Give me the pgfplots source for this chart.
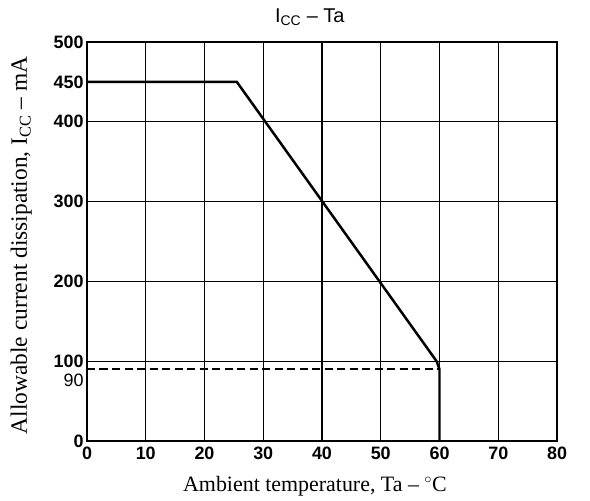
\documentclass[border=0pt]{standalone}
\usepackage{pgfplots}
\pgfplotsset{compat=1.18}
\usepackage{fontspec}
\setmainfont{Liberation Serif}
\newfontfamily\tickfont{Liberation Sans}
\begin{document}
\begin{tikzpicture}[x=1bp,y=1bp]
\useasboundingbox (-87,-60) rectangle (503,441);
\begin{axis}[
  at={(0,0)}, anchor=south west,
  scale only axis, width=470bp, height=399bp,
  xmin=0, xmax=80, ymin=0, ymax=500,
  xtick={0,10,...,80}, ytick={0,100,200,300,400,500},
  extra y ticks={90,450},
  extra y tick labels={{\fontseries{m}\selectfont\raisebox{-11bp}[\height][\depth]{90}},450},
  extra y tick style={grid=none},
  grid=major, major grid style={black, line width=1.1pt},
  axis line style={black, line width=1.2pt},
  major tick length=0pt,
  tick label style={font=\tickfont\bfseries\fontsize{18}{18}\selectfont},
  xticklabel style={yshift=-2bp},
  /pgf/number format/assume math mode=true,
  /pgf/number format/set thousands separator={},
  title={\tickfont\fontsize{20}{20}\selectfont I\textsubscript{CC} \textendash{} Ta},
  title style={at={(rel axis cs:0.474,1)}, anchor=base, yshift=14bp},
  xlabel={\fontsize{22}{22}\selectfont Ambient temperature, Ta \textendash{} $^{\circ}$C},
  ylabel={\fontsize{23.5}{23.5}\selectfont Allowable current dissipation, I\textsubscript{CC} \textendash{} mA},
  xlabel style={at={(rel axis cs:0.485,0)}, anchor=base, yshift=-50bp},
  ylabel style={at={(rel axis cs:0,0.49)}, anchor=base, yshift=60bp},
]
\addplot[black, line width=2.5pt] coordinates {(0,450) (25.5,450) (59.5,100) (60,90) (60,0)};
\addplot[black, line width=1.6pt, dash pattern=on 8bp off 4.5bp] coordinates {(0,90) (60,90)};
\end{axis}
\end{tikzpicture}
\end{document}
